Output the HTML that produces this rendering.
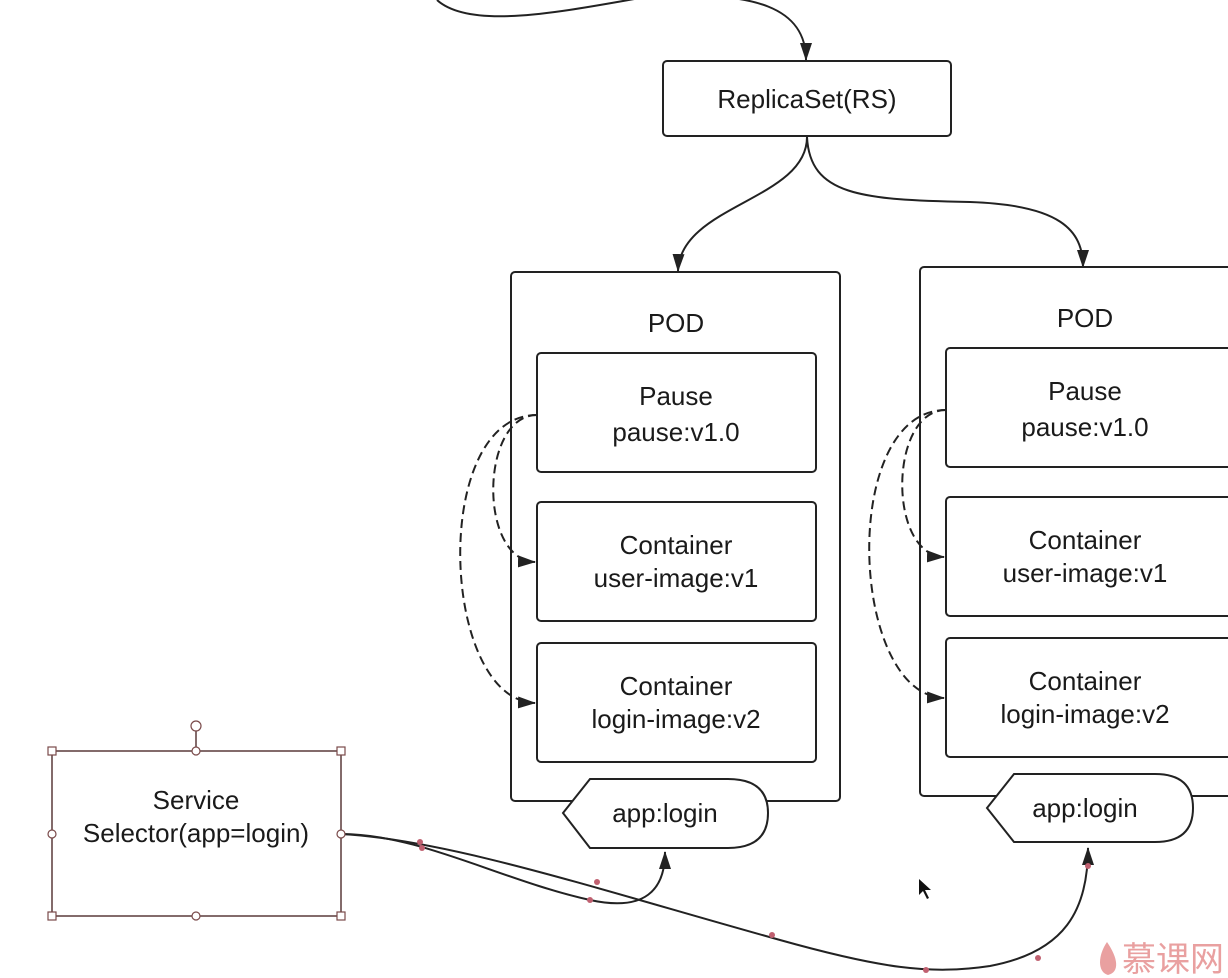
<!DOCTYPE html>
<html><head><meta charset="utf-8"><style>
html,body{margin:0;padding:0;background:#fff;}
svg{display:block;}
text{font-family:"Liberation Sans","Noto Sans CJK SC",sans-serif;fill:#1a1a1a;font-size:26px;text-anchor:middle;}
</style></head><body>
<svg width="1228" height="978" viewBox="0 0 1228 978" xmlns="http://www.w3.org/2000/svg">
<defs>
<marker id="ar2" markerWidth="18" markerHeight="12" refX="17" refY="6" orient="auto" markerUnits="userSpaceOnUse" viewBox="0 0 18 12">
<path d="M0,0 L18,6 L0,12 Z" fill="#222"/></marker>
</defs>
<g fill="none" stroke="#222" stroke-width="2">
<path d="M437,0 C470,30 560,12 640,-2 C760,-12 806,10 806,60" marker-end="url(#ar2)"/>
<rect x="663" y="61" width="288" height="75" rx="4"/>
<path d="M807,137 C807,200 680,205 678,271" marker-end="url(#ar2)"/>
<path d="M807,137 C810,195 860,200 970,202 C1060,205 1083,230 1083,267" marker-end="url(#ar2)"/>
<rect x="511" y="272" width="329" height="529" rx="4"/>
<rect x="537" y="353" width="279" height="119" rx="4"/>
<rect x="537" y="502" width="279" height="119" rx="4"/>
<rect x="537" y="643" width="279" height="119" rx="4"/>
<rect x="920" y="267" width="340" height="529" rx="4"/>
<rect x="946" y="348" width="300" height="119" rx="4"/>
<rect x="946" y="497" width="300" height="119" rx="4"/>
<rect x="946" y="638" width="300" height="119" rx="4"/>
<path d="M563,813 L590,779 L728,779 Q768,779 768,813 Q768,848 728,848 L590,848 Z" fill="#fff"/>
<path d="M987,808 L1014,774 L1155,774 Q1193,774 1193,808 Q1193,842 1155,842 L1014,842 Z" fill="#fff"/>
<g stroke-dasharray="9,5">
<path d="M537,415 C480,415 478,560 535,562" marker-end="url(#ar2)"/>
<path d="M537,415 C430,415 440,700 535,703" marker-end="url(#ar2)"/>
<path d="M946,410 C889,410 887,555 944,557" marker-end="url(#ar2)"/>
<path d="M946,410 C839,410 849,695 944,698" marker-end="url(#ar2)"/>
</g>
<path d="M341,834 C420,834 500,880 590,900 C645,912 665,890 665,852" marker-end="url(#ar2)"/>
<path d="M341,834 C450,840 600,890 780,940 C880,968 930,975 990,966 C1065,952 1088,910 1088,848" marker-end="url(#ar2)"/>
</g>
<g fill="none" stroke="#5a3a3a" stroke-width="1.5">
<rect x="52" y="751" width="289" height="165"/>
<line x1="196" y1="751" x2="196" y2="731"/>
</g>
<g fill="#fff" stroke="#7a4a4a" stroke-width="1.2">
<circle cx="196" cy="726" r="5"/>
<rect x="48" y="747" width="8" height="8"/><rect x="337" y="747" width="8" height="8"/>
<rect x="48" y="912" width="8" height="8"/><rect x="337" y="912" width="8" height="8"/>
<circle cx="196" cy="751" r="4"/><circle cx="196" cy="916" r="4"/>
<circle cx="52" cy="834" r="4"/><circle cx="341" cy="834" r="4"/>
</g>
<g fill="#c06070">
<circle cx="420" cy="842" r="3"/><circle cx="422" cy="848" r="3"/><circle cx="597" cy="882" r="3"/>
<circle cx="590" cy="900" r="3"/><circle cx="772" cy="935" r="3"/><circle cx="926" cy="970" r="3"/>
<circle cx="1038" cy="958" r="3"/><circle cx="1088" cy="866" r="3"/>
</g>
<text x="807" y="108">ReplicaSet(RS)</text>
<text x="676" y="332">POD</text>
<text x="676" y="405">Pause</text><text x="676" y="441">pause:v1.0</text>
<text x="676" y="554">Container</text><text x="676" y="587">user-image:v1</text>
<text x="676" y="695">Container</text><text x="676" y="728">login-image:v2</text>
<text x="1085" y="327">POD</text>
<text x="1085" y="400">Pause</text><text x="1085" y="436">pause:v1.0</text>
<text x="1085" y="549">Container</text><text x="1085" y="582">user-image:v1</text>
<text x="1085" y="690">Container</text><text x="1085" y="723">login-image:v2</text>
<text x="665" y="822">app:login</text>
<text x="1085" y="817">app:login</text>
<text x="196" y="809">Service</text>
<text x="196" y="842">Selector(app=login)</text>
<path d="M919,879 L919,895 L923,891 L927,899 L929,898 L925,890 L931,890 Z" fill="#111"/>
<path d="M1107,942 C1098,955 1097,972 1108,975 C1120,972 1118,958 1107,942 Z" fill="#e9a0a0"/>
<text x="1173" y="971" style="font-size:34px;fill:#e9a0a0">慕课网</text>
</svg>
</body></html>
